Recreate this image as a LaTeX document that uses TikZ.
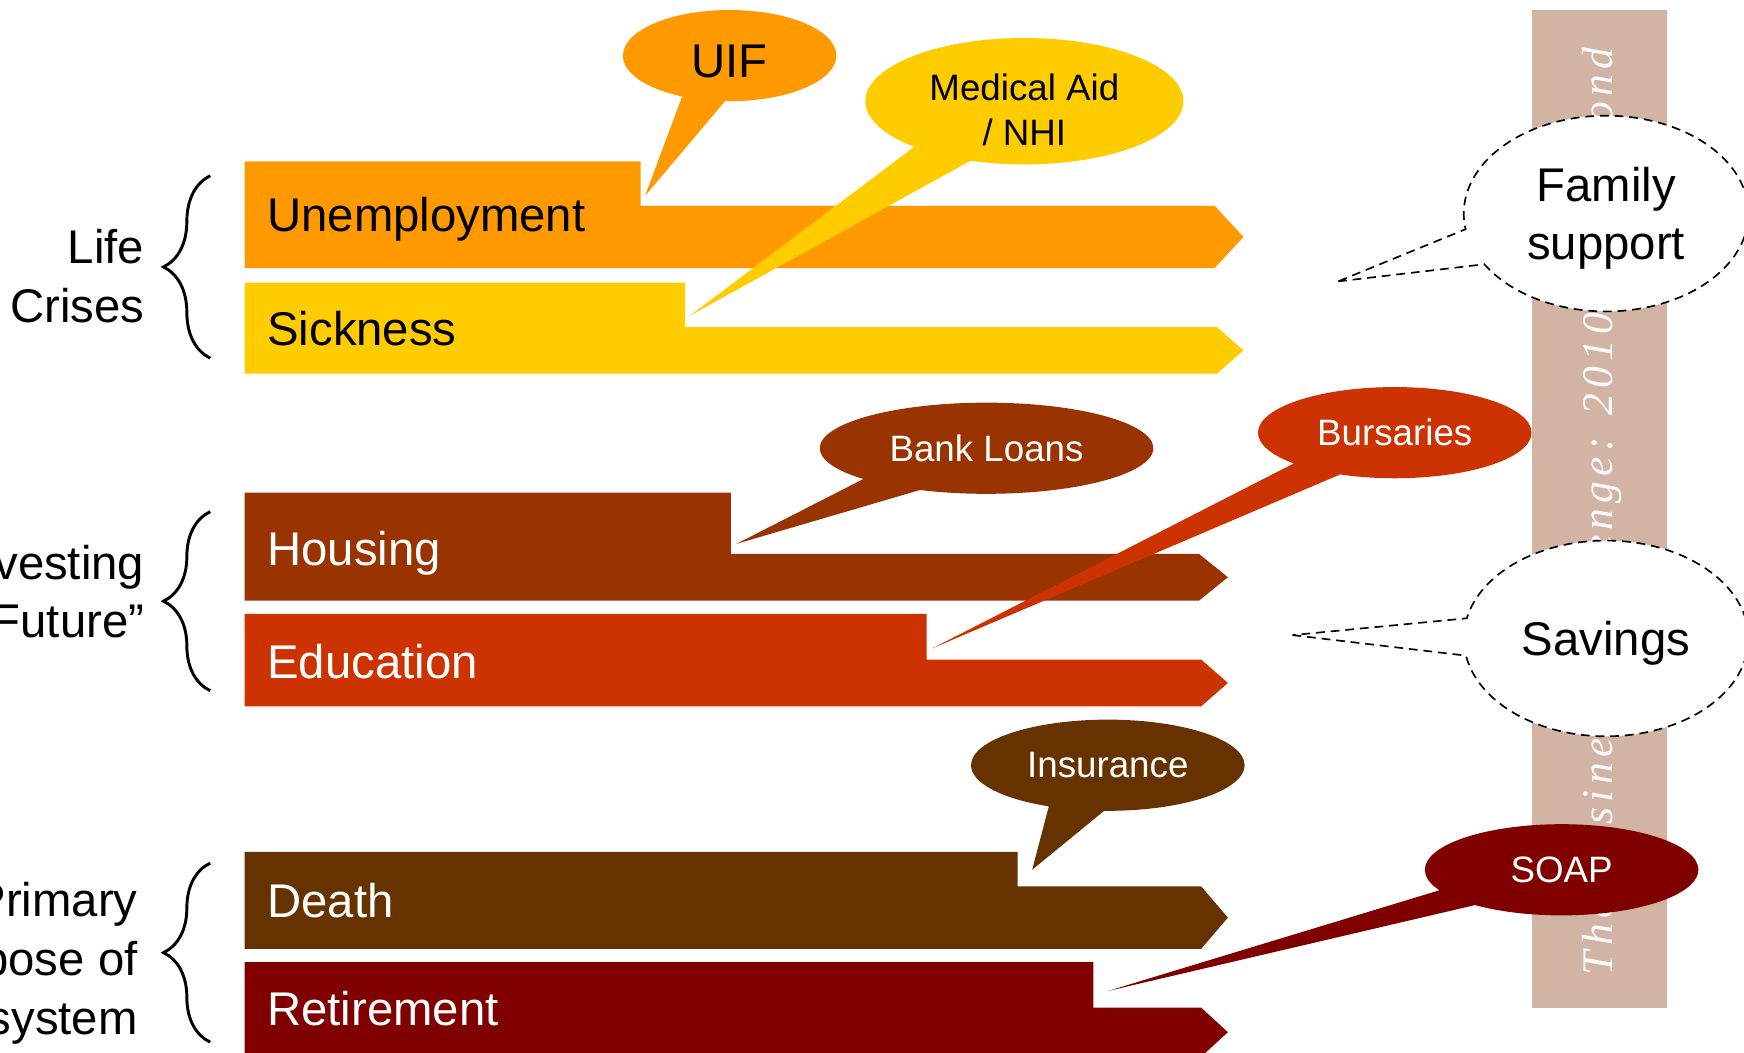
\documentclass[tikz,border=0pt]{standalone}
\usepackage{fontspec}
\setmainfont{Liberation Sans}
\newfontfamily\bandfont[LetterSpace=12]{Liberation Serif}
\usetikzlibrary{shapes.callouts, decorations.pathreplacing}

\definecolor{uifOrange}{HTML}{FF9900}
\definecolor{sickYellow}{HTML}{FFCC00}
\definecolor{houseBrown}{HTML}{993300}
\definecolor{eduRed}{HTML}{CC3300}
\definecolor{deathBrown}{HTML}{663300}
\definecolor{retireRed}{HTML}{800000}
\definecolor{bandTan}{HTML}{D2B4A5}

\begin{document}
\begin{tikzpicture}[x=0.02cm, y=-0.02cm,
    bigtext/.style={font=\fontsize{24.2}{30}\selectfont},
    barlabel/.style={bigtext, anchor=base west, inner sep=0pt},
    sidelabel/.style={bigtext, anchor=east, align=right, inner sep=0pt},
    curly/.style={decorate, decoration={brace, amplitude=0.84cm}, line width=1.5pt},
    bubble/.style={ellipse callout, callout pointer arc=24, inner sep=0pt, text=white, minimum width=4.92cm, minimum height=1.64cm, font=\fontsize{18.8}{22.8}\selectfont, align=center},
    thought/.style={ellipse callout, callout pointer arc=22, draw=black, line width=0.85pt, dash pattern=on 4.5pt off 3pt, fill=white, minimum width=5.12cm, minimum height=3.52cm, bigtext, align=center, inner sep=0pt, text depth=0pt},
    band/.style={rotate=90, anchor=base west, inner sep=0pt, text=white!94!bandTan, font=\bandfont\itshape\fontsize{22.3}{26}\selectfont}
    ]
    \useasboundingbox (0,0) rectangle (1568,946);
    \clip (0,0) rectangle (1568,946);
    % Band
    \fill[bandTan] (1377,9) rectangle (1499,906);
    \node[band] (bandtext) at (1450,877) {The Business Challenge: 2010 and Beyond};
    % Bars
    \fill[uifOrange] (220,145) -- (576,145) -- (576,185) -- (1092,185) -- (1118,213) -- (1092,241) -- (220,241) -- cycle;
    \fill[sickYellow] (220,254) -- (616,254) -- (616,294) -- (1094,294) -- (1118,315) -- (1094,336) -- (220,336) -- cycle;
    \fill[houseBrown] (220,443) -- (657,443) -- (657,498) -- (1078,498) -- (1104,519) -- (1078,540) -- (220,540) -- cycle;
    \fill[eduRed] (220,552) -- (833,552) -- (833,593) -- (1080,593) -- (1104,614) -- (1080,635) -- (220,635) -- cycle;
    \fill[deathBrown] (220,766) -- (915,766) -- (915,797) -- (1080,797) -- (1104,825) -- (1080,853) -- (220,853) -- cycle;
    \fill[retireRed] (220,865) -- (983,865) -- (983,906) -- (1080,906) -- (1104,928) -- (1080,950) -- (220,950) -- cycle;
    % Bar labels
    \node[barlabel] (unemp) at (240,208) {Unemployment};
    \node[barlabel] (sick) at (240,311) {Sickness};
    \node[barlabel, text=white] (house) at (240,508) {Housing};
    \node[barlabel, text=white] (edu) at (240,610) {Education};
    \node[barlabel, text=white] (death) at (240,825) {Death};
    \node[barlabel, text=white] (retire) at (240,922) {Retirement};
    % Groups
    \node[sidelabel] (crises) at (130,248) {Life\\Crises};
    \node[sidelabel] (future) at (130,532) {Investing\\Future”};
    \node[sidelabel] (primary) at (124,866) {Primary\\purpose of\\system};
    \draw[curly] (189,322) -- (189,158);
    \draw[curly] (189,621) -- (189,460);
    \draw[curly] (189,937) -- (189,776);
    % Callouts
    \coordinate (uifTip) at (580,176);
    \coordinate (medTip) at (620,284);
    \coordinate (loanTip) at (662,489);
    \coordinate (bursTip) at (838,583);
    \coordinate (insTip) at (928,782);
    \coordinate (soapTip) at (996,891);
    \coordinate (famTip) at (1203,253);
    \coordinate (saveTip) at (1162,571);
    \node[bubble, fill=uifOrange, text=black, bigtext, text height=0.8cm, minimum width=3.84cm, callout absolute pointer={(uifTip)}] (uif) at (656,50) {UIF};
    \node[bubble, fill=sickYellow, text=black, minimum width=5.72cm, minimum height=2.2cm, callout absolute pointer={(medTip)}] (med) at (921,91) {\rule{0pt}{0.8cm}Medical Aid\\/ NHI};
    \node[bubble, fill=houseBrown, minimum width=6cm, callout absolute pointer={(loanTip)}] (loan) at (887,403) {Bank Loans};
    \node[bubble, fill=eduRed, callout absolute pointer={(bursTip)}] (burs) at (1254,389) {Bursaries};
    \node[bubble, fill=deathBrown, callout absolute pointer={(insTip)}] (ins) at (996,688) {Insurance};
    \node[bubble, fill=retireRed, callout absolute pointer={(soapTip)}] (soap) at (1404,782) {SOAP};
    \node[thought, callout absolute pointer={(famTip)}] (family) at (1444,192) {Family\\support};
    \node[thought, callout absolute pointer={(saveTip)}] (savings) at (1444,574) {Savings};
\end{tikzpicture}
\end{document}
